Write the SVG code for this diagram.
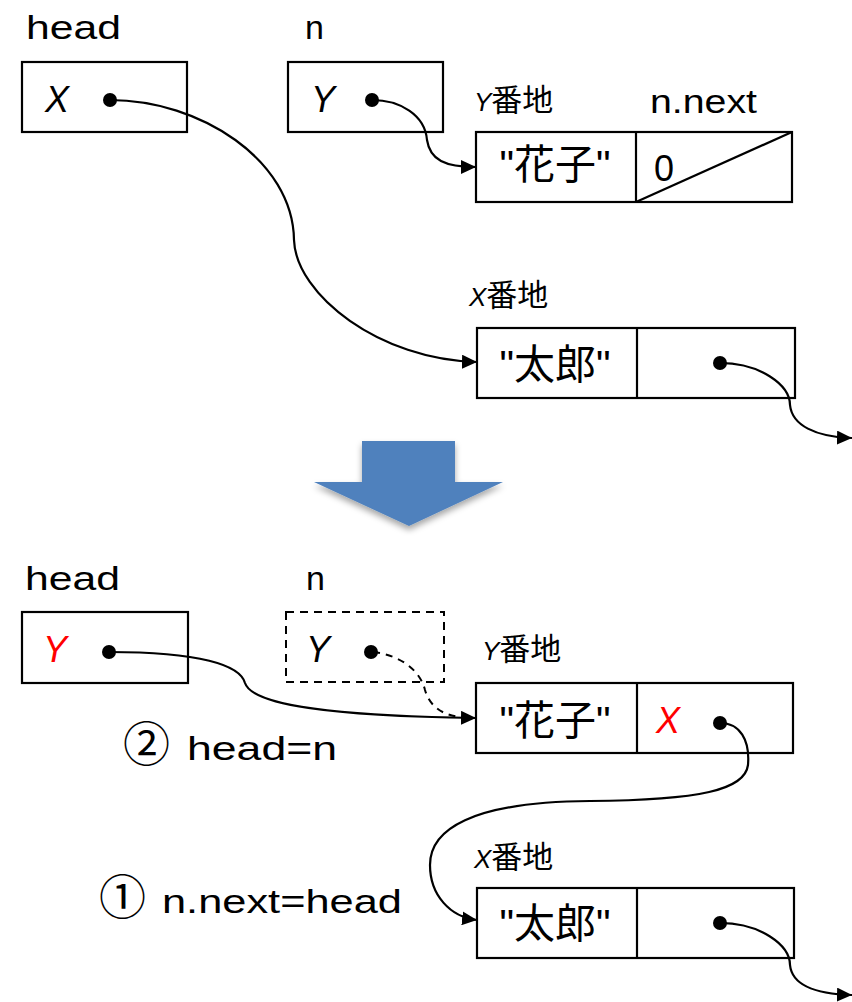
<svg xmlns="http://www.w3.org/2000/svg" width="852" height="1002" viewBox="0 0 852 1002">
<style>
.box{fill:#fff;stroke:#000;stroke-width:2.2}
.dash{fill:#fff;stroke:#000;stroke-width:2;stroke-dasharray:8,6}
.ln{fill:none;stroke:#000;stroke-width:2.2}
.dl{fill:none;stroke:#000;stroke-width:2;stroke-dasharray:7,6}
.t{font-family:"Liberation Sans","Noto Sans CJK JP",sans-serif;font-size:34px;fill:#000}
.v{font-family:"Liberation Sans",sans-serif;font-style:italic;font-size:36px;fill:#000}
.red{fill:#f00}
.k{font-family:"Liberation Sans","Noto Sans CJK JP",sans-serif;font-size:41px;fill:#000}
.a{font-family:"Noto Sans CJK JP",sans-serif;font-size:31px;fill:#000}
.ay{font-family:"Liberation Sans",sans-serif;font-style:italic;font-size:26px}
.c{font-family:"Noto Sans CJK JP",sans-serif;font-size:47px}
</style>
<defs>
<marker id="ar" markerUnits="userSpaceOnUse" markerWidth="16" markerHeight="14" refX="15" refY="7" orient="auto">
<path d="M0,0 L15,7 L0,14 z" fill="#000"/>
</marker>
<filter id="sh" x="-20%" y="-20%" width="140%" height="150%">
<feDropShadow dx="0" dy="4" stdDeviation="3" flood-color="#000" flood-opacity="0.35"/>
</filter>
</defs>

<!-- top section -->
<g id="head1">
<text class="t" x="26" y="39" textLength="95" lengthAdjust="spacingAndGlyphs">head</text>
<rect class="box" x="22" y="62" width="165" height="70"/>
<text class="v" x="45" y="112">X</text>
<circle cx="110" cy="100" r="7"/>
</g>
<g id="n1">
<text class="t" x="305" y="39">n</text>
<rect class="box" x="288" y="62" width="155" height="70"/>
<text class="v" x="311" y="112">Y</text>
<circle cx="372" cy="100" r="7"/>
</g>
<g id="hanako1">
<text class="a" x="474" y="111"><tspan class="ay">Y</tspan>番地</text>
<text class="t" x="650" y="113" textLength="107" lengthAdjust="spacingAndGlyphs">n.next</text>
<rect class="box" x="476" y="132" width="316" height="70"/>
<line class="ln" x1="636" y1="132" x2="636" y2="202"/>
<line class="ln" x1="636" y1="202" x2="792" y2="132"/>
<text class="k" x="555" y="179" text-anchor="middle">"花子"</text>
<text class="t" x="654" y="181" style="font-size:36px">0</text>
</g>
<g id="taro1">
<text class="a" x="469" y="306"><tspan class="ay">X</tspan>番地</text>
<rect class="box" x="477" y="328" width="318" height="70"/>
<line class="ln" x1="637" y1="328" x2="637" y2="398"/>
<text class="k" x="555" y="379" text-anchor="middle">"太郎"</text>
<circle cx="720" cy="363" r="7"/>
</g>

<!-- transition arrow -->
<g id="bigarrow">
<polygon points="362,441 455,441 455,482 503,482 409,526 314,482 362,482" fill="#4F81BD" filter="url(#sh)"/>
</g>

<!-- bottom section -->
<g id="head2">
<text class="t" x="25" y="590" textLength="95" lengthAdjust="spacingAndGlyphs">head</text>
<rect class="box" x="22" y="612" width="166" height="71"/>
<text class="v red" x="43" y="662">Y</text>
<circle cx="109" cy="652" r="7"/>
</g>
<g id="n2">
<text class="t" x="306" y="590">n</text>
<rect class="dash" x="286" y="612" width="158" height="70"/>
<text class="v" x="306" y="662">Y</text>
<circle cx="371" cy="652" r="7"/>
</g>
<g id="hanako2">
<text class="a" x="482" y="660"><tspan class="ay">Y</tspan>番地</text>
<rect class="box" x="476" y="683" width="317" height="70"/>
<line class="ln" x1="637" y1="683" x2="637" y2="753"/>
<text class="k" x="555" y="735" text-anchor="middle">"花子"</text>
<text class="v red" x="656" y="733">X</text>
<circle cx="720" cy="723" r="7"/>
</g>
<g id="taro2">
<text class="a" x="474" y="868"><tspan class="ay">X</tspan>番地</text>
<rect class="box" x="477" y="888" width="317" height="70"/>
<line class="ln" x1="637" y1="888" x2="637" y2="958"/>
<text class="k" x="555" y="938" text-anchor="middle">"太郎"</text>
<circle cx="720" cy="923" r="7"/>
</g>
<g id="labels">
<text class="t" x="123" y="761"><tspan class="c">②</tspan><tspan x="187" y="760" textLength="150" lengthAdjust="spacingAndGlyphs">head=n</tspan></text>
<text class="t" x="99" y="914"><tspan class="c">①</tspan><tspan x="162" y="913" textLength="240" lengthAdjust="spacingAndGlyphs">n.next=head</tspan></text>
</g>

<g id="connectors">
<path class="ln" d="M110,100 C200,100 293,160 294,240 C296,295 380,360 477,362" marker-end="url(#ar)"/>
<path class="ln" d="M372,100 C400,100 425,115 427,140 C430,160 445,167 476,167" marker-end="url(#ar)"/>
<path class="ln" d="M720,363 C760,363 790,385 790,405 C792,425 815,437 852,438" marker-end="url(#ar)"/>
<path class="ln" d="M109,652 C200,652 240,665 245,683 C252,705 330,716 476,718" marker-end="url(#ar)"/>
<path class="dl" d="M373,652 C400,655 420,670 425,690 C430,708 445,716 462,717"/>
<path class="ln" d="M720,723 C740,723 750,740 748,765 C745,790 700,800 590,801 C470,802 430,830 430,865 C430,895 450,917 477,920" marker-end="url(#ar)"/>
<path class="ln" d="M720,923 C760,923 790,945 790,965 C792,985 815,994 852,995" marker-end="url(#ar)"/>
</g>
</svg>
